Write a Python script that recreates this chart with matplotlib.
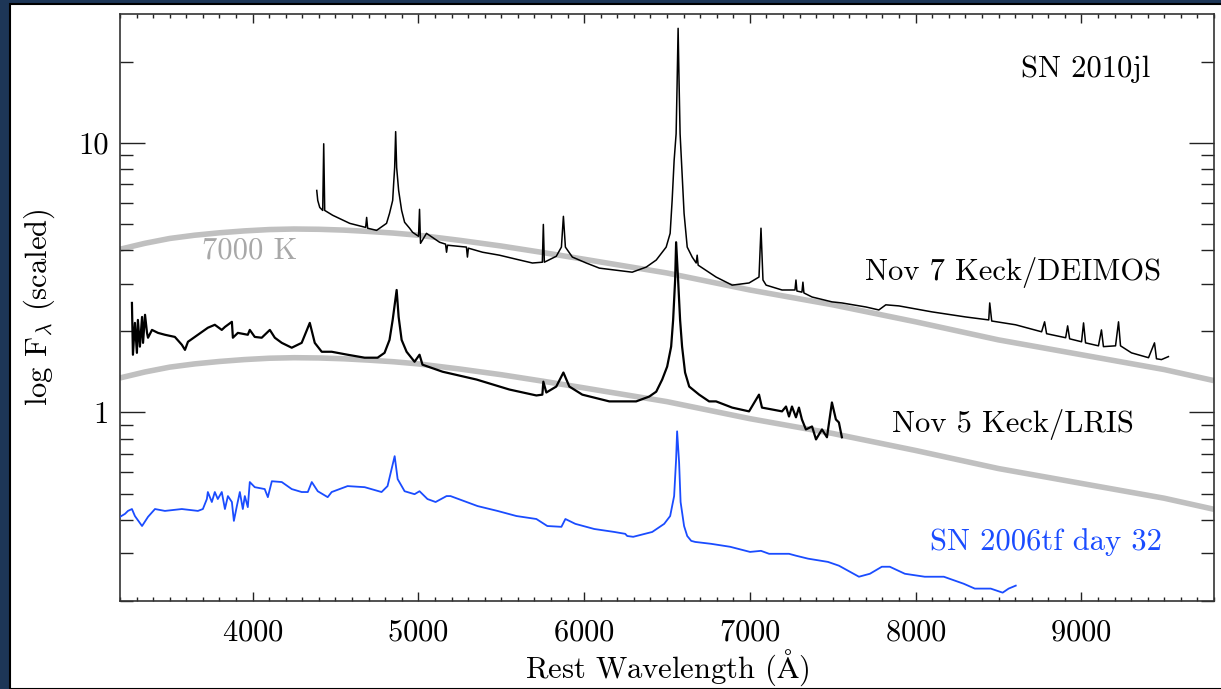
import numpy as np
import matplotlib
matplotlib.use("Agg")
import matplotlib.pyplot as plt
from matplotlib.ticker import MultipleLocator, FixedLocator, NullFormatter, FixedFormatter
from matplotlib.patches import Rectangle

plt.rcParams['font.family'] = ['cmr10', 'DejaVu Serif']
plt.rcParams['mathtext.fontset'] = 'cm'
plt.rcParams['axes.formatter.use_mathtext'] = True

# SN 2010jl, Nov 7 Keck/DEIMOS (wavelength in A, log10 of scaled flux)
deimos_wave = [4387, 4393, 4405, 4423, 4429, 4435, 4483, 4586, 4682, 4688, 4694, 4748,
               4808, 4826, 4845, 4851, 4857, 4863, 4869, 4881, 4899, 4917, 4947, 4965,
               5001, 5007, 5013, 5049,
               5128, 5164, 5170, 5176, 5290, 5296, 5302, 5387, 5489, 5591, 5688, 5748,
               5754, 5760, 5832, 5863, 5875, 5887, 5929, 6013, 6092, 6290, 6375, 6435,
               6495, 6519, 6531, 6543, 6555, 6561, 6567, 6573, 6579, 6591, 6603, 6622,
               6652, 6676, 6682, 6688, 6796, 6893, 6995,
               7055, 7067, 7079, 7098, 7194, 7272, 7278, 7284, 7314, 7320, 7326, 7375,
               7495, 7555, 7700, 7778, 7820, 7899, 8097, 8302, 8441, 8447, 8459, 8603,
               8760, 8778, 8790, 8905, 8917, 8929, 9001, 9013, 9025, 9103, 9121, 9133,
               9206, 9224, 9236, 9302, 9405, 9441, 9453, 9483, 9525]
deimos_logf = [0.823, 0.786, 0.760, 0.749, 0.996, 0.749, 0.731, 0.701, 0.686, 0.723, 0.683, 0.675,
               0.701, 0.738, 0.786, 0.849, 0.908, 1.041, 0.908, 0.823, 0.749, 0.705, 0.683, 0.668,
               0.653, 0.753, 0.627, 0.664,
               0.631, 0.624, 0.594, 0.620, 0.613, 0.576, 0.609, 0.594, 0.583, 0.568, 0.554, 0.557,
               0.697, 0.557, 0.579, 0.613, 0.727, 0.613, 0.576, 0.554, 0.535, 0.520, 0.539, 0.565,
               0.613, 0.664, 0.786, 0.934, 1.033, 1.218, 1.424, 1.218, 1.033, 0.886, 0.738, 0.613,
               0.576, 0.554, 0.583, 0.546, 0.502, 0.472, 0.480,
               0.502, 0.683, 0.491, 0.472, 0.454, 0.454, 0.491, 0.450, 0.446, 0.483, 0.443, 0.428,
               0.410, 0.406, 0.391, 0.380, 0.399, 0.395, 0.373, 0.354, 0.343, 0.406, 0.339, 0.325,
               0.299, 0.336, 0.292, 0.277, 0.321, 0.273, 0.262, 0.332, 0.258, 0.247, 0.306, 0.244,
               0.247, 0.336, 0.247, 0.221, 0.203, 0.258, 0.199, 0.196, 0.207]

# SN 2010jl, Nov 5 Keck/LRIS
lris_wave = [3272, 3278, 3290, 3302, 3308, 3320, 3333, 3339, 3351, 3363, 3369, 3393,
             3429, 3471, 3531, 3573, 3592, 3610, 3670, 3730, 3772, 3814, 3833, 3875,
             3881, 3911, 3971, 3983, 4013, 4055, 4104, 4134, 4176, 4236, 4296, 4345,
             4375, 4417, 4477, 4573, 4676, 4754, 4796, 4826, 4845, 4869, 4881, 4899,
             4929, 4977, 5007, 5025, 5146, 5351, 5549, 5712, 5748, 5754, 5772, 5832,
             5875, 5911, 5989, 6152, 6314, 6393, 6435, 6471, 6501, 6525, 6537, 6549,
             6555, 6567, 6579, 6591, 6609, 6634, 6694, 6754, 6796, 6893, 6995, 7055,
             7073, 7134, 7194, 7218, 7236, 7254, 7278, 7296, 7314, 7338, 7375, 7399,
             7435, 7465, 7495, 7519, 7537, 7555]
lris_logf = [0.406, 0.214, 0.332, 0.221, 0.343, 0.244, 0.354, 0.258, 0.362, 0.295, 0.277, 0.306,
             0.295, 0.288, 0.280, 0.251, 0.232, 0.262, 0.288, 0.314, 0.325, 0.306, 0.317, 0.336,
             0.277, 0.295, 0.288, 0.306, 0.280, 0.277, 0.306, 0.277, 0.258, 0.240, 0.258, 0.332,
             0.258, 0.225, 0.225, 0.214, 0.203, 0.203, 0.221, 0.269, 0.343, 0.454, 0.354, 0.269,
             0.225, 0.188, 0.214, 0.177, 0.151, 0.122, 0.085, 0.063, 0.066, 0.114, 0.074, 0.096,
             0.148, 0.096, 0.066, 0.041, 0.041, 0.059, 0.077, 0.122, 0.170, 0.244, 0.343, 0.491,
             0.631, 0.491, 0.343, 0.244, 0.148, 0.096, 0.066, 0.041, 0.041, 0.018, 0.004, 0.066,
             0.018, 0.011, 0.004, 0.022, -0.015, 0.022, -0.018, 0.018, -0.026, -0.063, -0.052, -0.100,
             -0.063, -0.092, 0.037, -0.026, -0.037, -0.092]

# SN 2006tf day 32
tf_wave = [3200, 3230, 3248, 3272, 3290, 3333, 3369, 3411, 3471, 3573, 3670, 3700,
           3724, 3730, 3754, 3772, 3790, 3814, 3833, 3851, 3875, 3887, 3905, 3923,
           3941, 3953, 3971, 3983, 4013, 4073, 4092, 4116, 4176, 4236, 4296, 4333,
           4357, 4393, 4453, 4477, 4573, 4676, 4778, 4814, 4857, 4875, 4917, 4977,
           5007, 5055, 5104, 5170, 5194, 5357, 5477, 5592, 5712, 5778, 5863, 5887,
           5947, 6061, 6182, 6248, 6260, 6296, 6411, 6483, 6519, 6543, 6555, 6561,
           6573, 6582, 6603, 6622, 6646, 6670, 6766, 6881, 7001, 7067, 7116, 7236,
           7278, 7351, 7471, 7537, 7658, 7724, 7796, 7844, 7935, 8055, 8170, 8290,
           8357, 8453, 8525, 8561, 8604]
tf_logf = [-0.387, -0.376, -0.365, -0.358, -0.384, -0.421, -0.387, -0.358, -0.365, -0.358, -0.365, -0.358,
           -0.321, -0.295, -0.332, -0.295, -0.321, -0.295, -0.358, -0.310, -0.332, -0.402, -0.347, -0.295,
           -0.358, -0.310, -0.351, -0.258, -0.277, -0.284, -0.314, -0.255, -0.258, -0.284, -0.295, -0.295,
           -0.258, -0.292, -0.314, -0.295, -0.273, -0.277, -0.295, -0.273, -0.162, -0.247, -0.292, -0.303,
           -0.292, -0.321, -0.332, -0.310, -0.310, -0.347, -0.365, -0.384, -0.395, -0.421, -0.424, -0.395,
           -0.413, -0.432, -0.443, -0.450, -0.458, -0.461, -0.443, -0.413, -0.384, -0.310, -0.173, -0.070,
           -0.185, -0.332, -0.421, -0.458, -0.476, -0.480, -0.487, -0.498, -0.517, -0.513, -0.524, -0.524,
           -0.531, -0.542, -0.554, -0.568, -0.609, -0.598, -0.572, -0.572, -0.598, -0.609, -0.609, -0.635,
           -0.653, -0.653, -0.668, -0.653, -0.642]

# 7000 K blackbody as drawn, and its two scalings
bb_wave = [3200, 3350, 3500, 3650, 3800, 3950, 4100, 4250, 4400, 4550, 4700, 4850,
           5000, 5250, 5500, 5750, 6000, 6500, 7000, 7500, 8000, 8500, 9000, 9500, 9800]
bb_logf = [0.605, 0.627, 0.645, 0.657, 0.666, 0.673, 0.678, 0.680, 0.679, 0.676, 0.671, 0.665,
           0.657, 0.638, 0.617, 0.593, 0.568, 0.517, 0.454, 0.399, 0.336, 0.269, 0.214, 0.159, 0.118]
bb_shift = [0.0, -0.477]

blue = '#1a4cff'
grey = '#c0c0c0'

fig = plt.figure(figsize=(12.21, 6.89), dpi=100)
fig.patch.set_facecolor('#1d3657')
fig.patches.append(Rectangle((10 / 1221, 0), 1, 1 - 4 / 689, transform=fig.transFigure,
                             facecolor='white', edgecolor='black', linewidth=1.5, zorder=-10))

ax = fig.add_axes([120 / 1221, 1 - 601 / 689, 1094 / 1221, 587 / 689])
ax.set_facecolor('white')

for s in bb_shift:
    ax.plot(bb_wave, 10 ** (np.array(bb_logf) + s), color=grey, lw=4, solid_capstyle='butt', zorder=1)

ax.plot(deimos_wave, 10 ** np.array(deimos_logf), color='black', lw=1.1, zorder=3)
ax.plot(lris_wave, 10 ** np.array(lris_logf), color='black', lw=1.6, zorder=3)
ax.plot(tf_wave, 10 ** np.array(tf_logf), color=blue, lw=1.3, zorder=3)

ax.set_yscale('log')
ax.set_xlim(3200, 9800)
ax.set_ylim(0.2, 30)

ax.xaxis.set_major_locator(MultipleLocator(1000))
ax.xaxis.set_minor_locator(MultipleLocator(100))
ax.yaxis.set_major_locator(FixedLocator([1, 10]))
ax.yaxis.set_major_formatter(FixedFormatter(['1', '10']))
ax.yaxis.set_minor_locator(FixedLocator([0.2, 0.3, 0.4, 0.5, 0.6, 0.7, 0.8, 0.9,
                                         2, 3, 4, 5, 6, 7, 8, 9, 20]))
ax.yaxis.set_minor_formatter(NullFormatter())

ax.tick_params(axis='both', which='both', direction='in', top=True, right=True,
               colors='#222222', width=1.0, labelsize=22, labelcolor='black')
ax.tick_params(axis='x', which='major', length=6.5, pad=13)
ax.tick_params(axis='x', which='minor', length=3.2)
ax.tick_params(axis='y', which='major', length=18, pad=8)
ax.tick_params(axis='y', which='minor', length=9.4)
for sp in ax.spines.values():
    sp.set_linewidth(1.2)
    sp.set_color('#333333')

ax.set_xlabel(r'Rest Wavelength ($\mathrm{\AA}$)', fontsize=22)
ax.set_ylabel(r'log F$_\lambda$ (scaled)', fontsize=22)
ax.xaxis.set_label_coords(0.5, -0.08)
ax.yaxis.set_label_coords(-0.058, 0.5)

ax.text(9417, 10 ** 1.273, 'SN 2010jl', fontsize=22, ha='right', va='center')
ax.text(9483, 10 ** 0.517, 'Nov 7 Keck/DEIMOS', fontsize=22, ha='right', va='center')
ax.text(9314, 10 ** -0.044, 'Nov 5 Keck/LRIS', fontsize=22, ha='right', va='center')
ax.text(9483, 10 ** -0.48, 'SN 2006tf day 32', fontsize=22, ha='right', va='center', color=blue)
ax.text(3694, 10 ** 0.601, '7000 K', fontsize=22, ha='left', va='center', color='#a8a8a8')

fig.savefig('out.png', dpi=100, facecolor=fig.get_facecolor())
